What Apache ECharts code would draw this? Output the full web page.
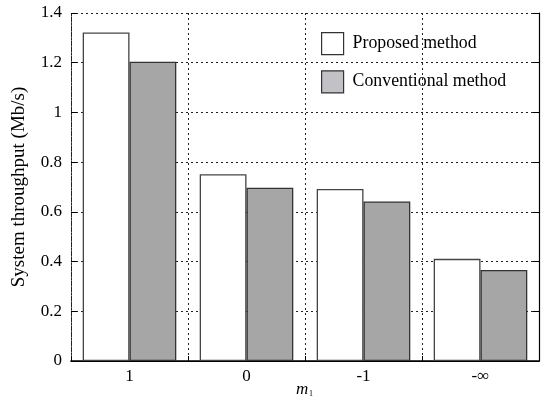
<!DOCTYPE html>
<html>
<head>
<meta charset="utf-8">
<script src="https://cdn.jsdelivr.net/npm/echarts@6/dist/echarts.min.js"></script>
<style>
  html, body { margin: 0; padding: 0; background: #fff; }
  #chart { width: 558px; height: 398px; }
</style>
</head>
<body>
<div id="chart"></div>
<script>
const categories = ['1', '0', '-1', '-\u221e'];
const proposed = [1.322, 0.751, 0.692, 0.411];
const conventional = [1.204, 0.697, 0.642, 0.366];
const yTicks = { min: 0, max: 1.4, interval: 0.2 };

const FONT = '"Liberation Serif", "DejaVu Serif", serif';
const dotted = { color: '#222', width: 1, type: [2, 3] };

const chart = echarts.init(document.getElementById('chart'));
chart.setOption({
  animation: false,
  textStyle: { fontFamily: FONT, color: '#000' },
  grid: { left: 71, right: 19, top: 13, bottom: 37, containLabel: false, outerBoundsMode: 'none' },
  legend: {
    orient: 'vertical',
    left: 321,
    top: 32,
    padding: 0,
    itemWidth: 22,
    itemHeight: 22,
    itemGap: 15,
    icon: 'rect',
    textStyle: { fontFamily: FONT, fontSize: 17.8, color: '#000', padding: [0, 0, 0, 4] },
    data: [
      { name: 'Proposed method', itemStyle: { color: '#fff', borderColor: '#333', borderWidth: 1.2 } },
      { name: 'Conventional method', itemStyle: { color: '#c2c2c6', borderColor: '#333', borderWidth: 1.2 } }
    ]
  },
  // x axis title: italic m with a small subscript 1
  graphic: [
    {
      type: 'text',
      left: 296,
      top: 381,
      style: { text: 'm', font: 'italic 17px ' + FONT, fill: '#000' }
    },
    {
      type: 'text',
      left: 309,
      top: 390,
      style: { text: '1', font: '8px ' + FONT, fill: '#000' }
    }
  ],
  xAxis: [
    {
      type: 'category',
      data: categories,
      boundaryGap: true,
      axisLine: { lineStyle: { color: '#000', width: 1.5 } },
      axisTick: { show: true, inside: true, length: 5, lineStyle: { color: '#000' } },
      axisLabel: { fontFamily: FONT, fontSize: 17, color: '#000', margin: 7 },
      splitLine: { show: true, lineStyle: dotted }
    },
    {
      type: 'category',
      data: categories,
      position: 'top',
      axisLine: { lineStyle: { color: '#000', width: 1 } },
      axisTick: { show: false },
      axisLabel: { show: false },
      splitLine: { show: false }
    }
  ],
  yAxis: [
    {
      type: 'value',
      min: yTicks.min,
      max: yTicks.max,
      interval: yTicks.interval,
      name: 'System throughput (Mb/s)',
      nameLocation: 'middle',
      nameGap: 42,
      nameTextStyle: { fontFamily: FONT, fontSize: 19, color: '#000' },
      axisLine: { show: true, lineStyle: { color: '#222', width: 1, type: [2, 1] } },
      axisTick: { show: true, inside: true, length: 6, lineStyle: { color: '#000' } },
      axisLabel: { fontFamily: FONT, fontSize: 17, color: '#000', margin: 9 },
      splitLine: { show: true, lineStyle: dotted }
    },
    {
      type: 'value',
      min: yTicks.min,
      max: yTicks.max,
      interval: yTicks.interval,
      position: 'right',
      axisLine: { show: true, lineStyle: { color: '#000', width: 1.2 } },
      axisTick: { show: true, inside: true, length: 6, lineStyle: { color: '#000' } },
      axisLabel: { show: false },
      splitLine: { show: false }
    }
  ],
  series: [
    {
      name: 'Proposed method',
      type: 'bar',
      barGap: '0%',
      barCategoryGap: '20%',
      itemStyle: { color: '#fff', borderColor: '#444', borderWidth: 1.3 },
      data: proposed
    },
    {
      name: 'Conventional method',
      type: 'bar',
      barGap: '0%',
      barCategoryGap: '20%',
      itemStyle: { color: '#a6a6a6', borderColor: '#333', borderWidth: 1.3 },
      data: conventional
    }
  ]
});
</script>
</body>
</html>
